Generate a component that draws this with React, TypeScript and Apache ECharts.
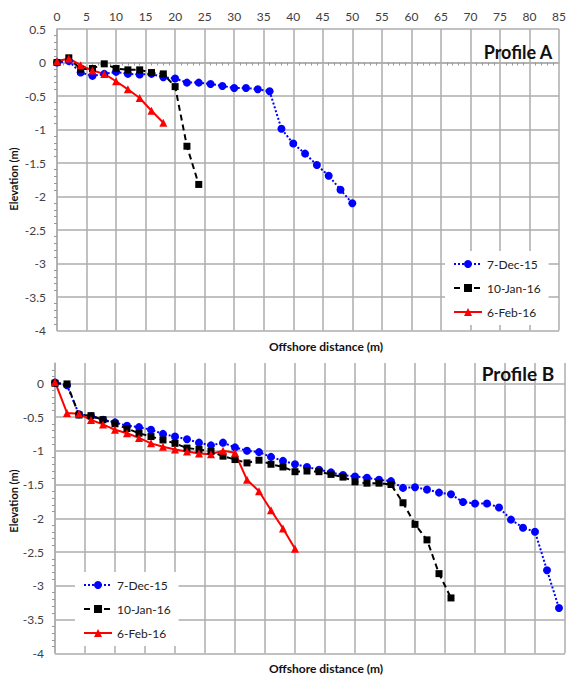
import React, { useEffect, useRef } from "react";
import * as echarts from "echarts";

const seriesNames = ["7-Dec-15", "10-Jan-16", "6-Feb-16"];

// Profile A
const distA_dec = [0, 2, 4, 6, 8, 10, 12, 14, 16, 18, 20, 22, 24, 26, 28, 30, 32, 34, 36, 38, 40, 42, 44, 46, 48, 50];
const elevA_dec = [0, 0.02, -0.15, -0.2, -0.17, -0.14, -0.17, -0.18, -0.17, -0.22, -0.24, -0.3, -0.3, -0.32, -0.35, -0.38, -0.38, -0.4, -0.43, -0.99, -1.21, -1.36, -1.53, -1.69, -1.9, -2.1];
const distA_jan = [0, 2, 4, 6, 8, 10, 12, 14, 16, 18, 20, 22, 24];
const elevA_jan = [0, 0.07, -0.1, -0.09, -0.02, -0.09, -0.11, -0.11, -0.15, -0.17, -0.36, -1.25, -1.82];
const distA_feb = [0, 2, 4, 6, 8, 10, 12, 14, 16, 18];
const elevA_feb = [0.02, 0.06, -0.04, -0.12, -0.17, -0.28, -0.4, -0.53, -0.72, -0.9];

// Profile B
const distB_dec = [0, 2, 4, 6, 8, 10, 12, 14, 16, 18, 20, 22, 24, 26, 28, 30, 32, 34, 36, 38, 40, 42, 44, 46, 48, 50, 52, 54, 56, 58, 60, 62, 64, 66, 68, 70, 72, 74, 76, 78, 80, 82, 84];
const elevB_dec = [0.01, -0.03, -0.46, -0.49, -0.54, -0.58, -0.63, -0.65, -0.69, -0.75, -0.79, -0.83, -0.88, -0.92, -0.88, -0.95, -1.0, -1.02, -1.09, -1.15, -1.2, -1.24, -1.28, -1.32, -1.36, -1.38, -1.4, -1.43, -1.45, -1.55, -1.54, -1.575, -1.62, -1.645, -1.76, -1.78, -1.78, -1.84, -2.02, -2.14, -2.2, -2.77, -3.33];
const distB_jan = [0, 2, 4, 6, 8, 10, 12, 14, 16, 18, 20, 22, 24, 26, 28, 30, 32, 34, 36, 38, 40, 42, 44, 46, 48, 50, 52, 54, 56, 58, 60, 62, 64, 66];
const elevB_jan = [0, -0.01, -0.47, -0.48, -0.54, -0.6, -0.67, -0.74, -0.79, -0.84, -0.89, -0.96, -0.98, -1.01, -1.08, -1.13, -1.18, -1.14, -1.2, -1.24, -1.31, -1.3, -1.31, -1.35, -1.39, -1.46, -1.48, -1.48, -1.5, -1.77, -2.09, -2.32, -2.82, -3.18];
const distB_feb = [0, 2, 4, 6, 8, 10, 12, 14, 16, 18, 20, 22, 24, 26, 28, 30, 32, 34, 36, 38, 40];
const elevB_feb = [0.02, -0.44, -0.45, -0.545, -0.61, -0.69, -0.74, -0.81, -0.89, -0.94, -0.98, -1.01, -1.04, -1.05, -1.0, -1.03, -1.43, -1.6, -1.88, -2.15, -2.45];

const titles = ["Profile A", "Profile B"];
const xName = "Offshore distance (m)";
const yName = "Elevation (m)";

const FONT = "Lato, 'Open Sans', sans-serif";
const GRID = "#adadad";

const zip = (xs: number[], ys: number[]) => xs.map((x, i) => [x, ys[i]]);

export default function App() {
  const ref = useRef<HTMLDivElement>(null);

  useEffect(() => {
    if (!ref.current) return;
    const chart = echarts.init(ref.current, undefined, { renderer: "svg" });

    const mkSeries = (gi: number, data: number[][][]) => [
      {
        name: seriesNames[0],
        type: "line",
        xAxisIndex: gi,
        yAxisIndex: gi,
        data: data[0],
        symbol: "circle",
        symbolSize: 8,
        itemStyle: { color: "#0000ff" },
        lineStyle: { color: "#0000ff", width: 2, type: "dotted" },
      },
      {
        name: seriesNames[1],
        type: "line",
        xAxisIndex: gi,
        yAxisIndex: gi,
        data: data[1],
        symbol: "rect",
        symbolSize: 7,
        itemStyle: { color: "#000000" },
        lineStyle: { color: "#000000", width: 2, type: [6, 4] },
      },
      {
        name: seriesNames[2],
        type: "line",
        xAxisIndex: gi,
        yAxisIndex: gi,
        data: data[2],
        symbol: "triangle",
        symbolSize: 8,
        itemStyle: { color: "#ff0000" },
        lineStyle: { color: "#ff0000", width: 2, type: "solid" },
      },
    ];

    const xAxisBase = (gi: number, showLabels: boolean) => ({
      type: "value",
      gridIndex: gi,
      position: "top",
      min: 0,
      max: 85,
      interval: 5,
      axisLine: { show: showLabels, lineStyle: { color: GRID, width: 1.5 } },
      axisTick: { show: false, inside: true },
      minorTick: { show: showLabels, splitNumber: 5, length: 3, lineStyle: { color: "#999" } },
      axisLabel: { show: showLabels, fontSize: 12, color: "#404040", fontFamily: FONT, margin: 7 },
      splitLine: { show: true, lineStyle: { color: GRID, width: 1.5 } },
    });

    const yAxisBase = (gi: number, max: number) => ({
      type: "value",
      gridIndex: gi,
      min: -4,
      max,
      interval: 0.5,
      axisLine: { show: true, onZero: false, lineStyle: { color: GRID, width: 1.5 } },
      axisTick: { show: false },
      minorTick: { show: true, splitNumber: 5, length: 3, lineStyle: { color: "#999" } },
      axisLabel: {
        fontSize: 12,
        color: "#404040",
        fontFamily: FONT,
        margin: 11,
        showMaxLabel: max === 0.5,
      },
      splitLine: { show: true, showMaxLine: max === 0.5, lineStyle: { color: GRID, width: 1.5 } },
    });

    const legendBase = (left: number, top: number) => ({
      data: seriesNames,
      orient: "vertical",
      left,
      top,
      itemWidth: 28,
      itemHeight: 10,
      itemGap: 12,
      padding: [7, 8, 7, 8],
      backgroundColor: "#ffffff",
      selectedMode: false,
      textStyle: { fontSize: 12, color: "#222", fontFamily: FONT },
    });

    const txt = (text: string, x: number, y: number, size: number, extra: any = {}) => ({
      type: "text",
      x,
      y,
      z: 100,
      ...extra,
      style: {
        text,
        fontFamily: FONT,
        fontSize: size,
        fontWeight: "bold",
        fill: "#111",
        textAlign: "center",
        textVerticalAlign: "middle",
      },
    });

    chart.setOption({
      animation: false,
      backgroundColor: "#ffffff",
      grid: [
        { left: 57, right: 4, top: 29, height: 301.5 },
        { left: 55, right: 4, top: 363, height: 290.3 },
      ],
      xAxis: [xAxisBase(0, true), xAxisBase(1, false)],
      yAxis: [yAxisBase(0, 0.5), yAxisBase(1, 0.3)],
      legend: [legendBase(445, 251), legendBase(75, 572)],
      series: [
        ...mkSeries(0, [zip(distA_dec, elevA_dec), zip(distA_jan, elevA_jan), zip(distA_feb, elevA_feb)]),
        ...mkSeries(1, [zip(distB_dec, elevB_dec), zip(distB_jan, elevB_jan), zip(distB_feb, elevB_feb)]),
      ],
      graphic: [
        txt(titles[0], 518, 52, 18),
        txt(titles[1], 518, 373, 19),
        txt(xName, 326, 346, 12),
        txt(xName, 326, 668, 12),
        txt(yName, 13, 179, 11, { rotation: Math.PI / 2 }),
        txt(yName, 13, 501, 11, { rotation: Math.PI / 2 }),
      ],
    });

    return () => chart.dispose();
  }, []);

  return (
    <div
      ref={ref}
      style={{ position: "fixed", left: 0, top: 0, width: 569, height: 675, background: "#fff" }}
    />
  );
}
